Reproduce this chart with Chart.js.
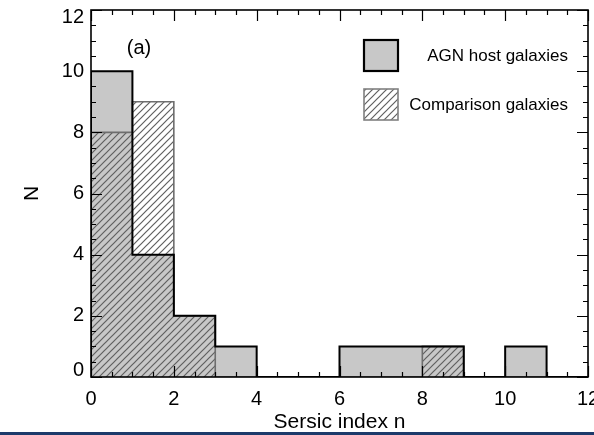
<!DOCTYPE html>
<html>
<head>
<meta charset="utf-8">
<script src="https://cdn.jsdelivr.net/npm/chart.js@4/dist/chart.umd.min.js"></script>
<style>
html,body{margin:0;padding:0;background:#fff;overflow:hidden;}
canvas{display:block;}
</style>
</head>
<body>
<canvas id="c" width="594" height="435"></canvas>
<script>
// ---- data ----
const binEdges = [0,1,2,3,4,5,6,7,8,9,10,11,12];
const agnCounts = [10,4,2,1,0,0,1,1,1,0,1,0];
const compCounts = [8,9,2,0,0,0,0,0,1,0,0,0];
const xTickValues = [0,2,4,6,8,10,12];
const yTickValues = [0,2,4,6,8,10,12];
const seriesNames = ['AGN host galaxies','Comparison galaxies'];
const xTitle = 'Sersic index n';
const yTitle = 'N';
const panelLabel = '(a)';
const panelLabelPos = [1.16, 10.75];

const FONT = '"Liberation Sans", Arial, Helvetica, sans-serif';
const GRAY = 'rgb(200,200,200)';
const HATCH = '#606060';
const COMP_EDGE = '#6e6e6e';

function stepPoints(counts){
  const pts = [{x: binEdges[0], y: 0}];
  counts.forEach((v,i)=>{
    pts.push({x: binEdges[i], y: v});
    pts.push({x: binEdges[i+1], y: v});
  });
  pts.push({x: binEdges[binEdges.length-1], y: 0});
  return pts;
}

function makeHatch(bg){
  const s = 7;
  const c = document.createElement('canvas');
  c.width = s; c.height = s;
  const g = c.getContext('2d');
  if (bg){ g.fillStyle = bg; g.fillRect(0,0,s,s); }
  g.strokeStyle = HATCH; g.lineWidth = 1.2;
  g.beginPath();
  g.moveTo(-1, s+1); g.lineTo(s+1, -1);
  g.moveTo(-1, 1); g.lineTo(1, -1);
  g.moveTo(s-1, s+1); g.lineTo(s+1, s-1);
  g.stroke();
  return c;
}
const ctx0 = document.getElementById('c').getContext('2d');
const hatchPattern = ctx0.createPattern(makeHatch(null), 'repeat');
const hatchLegend = ctx0.createPattern(makeHatch('#ffffff'), 'repeat');

const base = {pointRadius:0, tension:0, borderJoinStyle:'miter'};

const decor = {
  id: 'decor',
  afterDatasetsDraw(chart){
    const {ctx, chartArea:a, scales:{x, y}} = chart;
    ctx.save();
    // frame
    ctx.strokeStyle = '#000'; ctx.lineWidth = 1.6;
    ctx.strokeRect(a.left, a.top, a.right-a.left, a.bottom-a.top);
    // ticks (inward, all four sides)
    ctx.lineWidth = 1.2;
    ctx.beginPath();
    for (let v = x.min; v <= x.max + 1e-9; v += 0.5){
      const len = (Math.abs(v % 2) < 1e-9) ? 11 : 5;
      const px = Math.round(x.getPixelForValue(v)) + 0.5;
      ctx.moveTo(px, a.bottom); ctx.lineTo(px, a.bottom - len);
      ctx.moveTo(px, a.top); ctx.lineTo(px, a.top + len);
    }
    for (let v = y.min; v <= y.max + 1e-9; v += 0.5){
      const len = (Math.abs(v % 2) < 1e-9) ? 11 : 5;
      const py = Math.round(y.getPixelForValue(v)) + 0.5;
      ctx.moveTo(a.left, py); ctx.lineTo(a.left + len, py);
      ctx.moveTo(a.right, py); ctx.lineTo(a.right - len, py);
    }
    ctx.stroke();
    // panel label
    ctx.fillStyle = '#000';
    ctx.font = '20px ' + FONT;
    ctx.textAlign = 'center'; ctx.textBaseline = 'middle';
    ctx.fillText(panelLabel, x.getPixelForValue(panelLabelPos[0]), y.getPixelForValue(panelLabelPos[1]));
    // legend
    const boxes = [
      {label: seriesNames[0], y: 40, fill: GRAY, stroke: '#000', lw: 2.2},
      {label: seriesNames[1], y: 89, fill: hatchLegend, stroke: '#808080', lw: 1.6}
    ];
    ctx.font = '17px ' + FONT;
    ctx.textAlign = 'right';
    boxes.forEach(b=>{
      ctx.fillStyle = b.fill;
      ctx.fillRect(364, b.y, 34, 31);
      ctx.strokeStyle = b.stroke; ctx.lineWidth = b.lw;
      ctx.strokeRect(364, b.y, 34, 31);
      ctx.fillStyle = '#000';
      ctx.fillText(b.label, 568, b.y + 16);
    });
    // bottom rule
    ctx.fillStyle = '#1d3a6b';
    ctx.fillRect(0, 432, chart.width, 3);
    ctx.restore();
  }
};

// Chart.js paints dataset 0 on top, so the order is: outline (top), hatch, gray fill (bottom)
new Chart(document.getElementById('c'), {
  type: 'line',
  data: {
    datasets: [
      Object.assign({label: seriesNames[0] + ' outline', data: stepPoints(agnCounts), fill: false, borderWidth: 2, borderColor: '#000'}, base),
      Object.assign({label: seriesNames[1], data: stepPoints(compCounts), fill: 'origin', backgroundColor: hatchPattern, borderWidth: 1.6, borderColor: COMP_EDGE}, base),
      Object.assign({label: seriesNames[0], data: stepPoints(agnCounts), fill: 'origin', backgroundColor: GRAY, borderWidth: 0, borderColor: 'rgba(0,0,0,0)'}, base)
    ]
  },
  options: {
    responsive: false,
    animation: false,
    events: [],
    layout: {padding: {top: 10, right: 6, left: 0, bottom: 0}},
    plugins: {legend: {display: false}, tooltip: {enabled: false}},
    scales: {
      x: {
        type: 'linear', min: 0, max: 12,
        afterBuildTicks(s){ s.ticks = xTickValues.map(v=>({value: v})); },
        ticks: {font: {family: FONT, size: 20}, color: '#000', padding: 10, maxRotation: 0, autoSkip: false},
        grid: {display: false, drawTicks: false},
        border: {display: false},
        title: {display: true, text: xTitle, color: '#000', font: {family: FONT, size: 21}, padding: {top: 0, bottom: 0}},
        afterFit(s){ s.height = 58; s.paddingLeft = 0; s.paddingRight = 0; }
      },
      y: {
        type: 'linear', min: 0, max: 12,
        afterBuildTicks(s){ s.ticks = yTickValues.map(v=>({value: v})); },
        ticks: {
          font: {family: FONT, size: 20, lineHeight: 0.7}, color: '#000', padding: 7, autoSkip: false,
          callback(v){
            if (v === yTickValues[0]) return [String(v), ''];
            if (v === yTickValues[yTickValues.length-1]) return ['', String(v)];
            return String(v);
          }
        },
        grid: {display: false, drawTicks: false},
        border: {display: false},
        title: {display: true, text: yTitle, color: '#000', font: {family: FONT, size: 21}, padding: {top: 20, bottom: 0}},
        afterFit(s){ s.width = 91; s.paddingTop = 0; s.paddingBottom = 0; }
      }
    }
  },
  plugins: [decor]
});
</script>
</body>
</html>
